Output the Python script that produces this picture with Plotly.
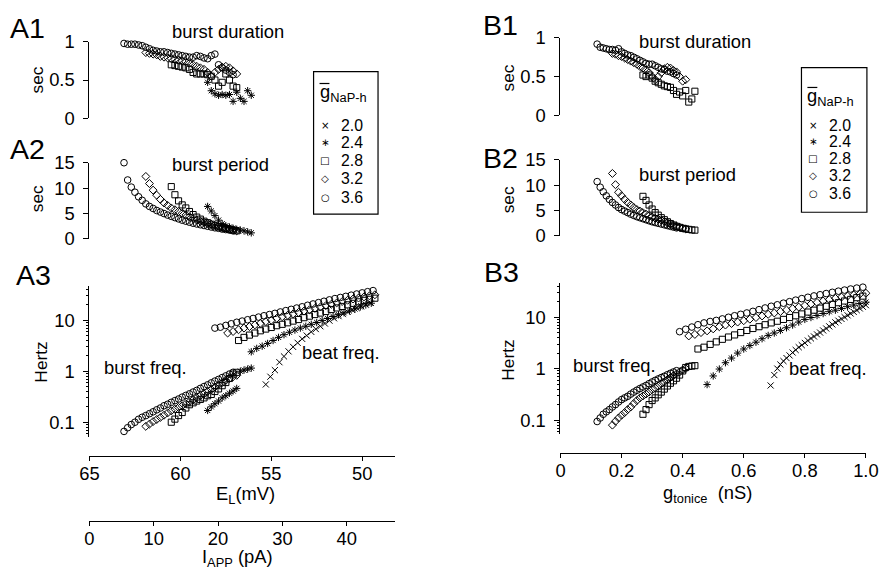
import plotly.graph_objects as go

# ---------------- Panel A : E_L sweep (burst regime) ----------------
A_el_c = [63.1, 62.9, 62.7, 62.5, 62.3, 62.1, 61.9, 61.7, 61.5, 61.3, 61.1, 60.9, 60.7, 60.5, 60.3, 60.1,
          59.9, 59.7, 59.5, 59.3, 59.1, 58.9, 58.7, 58.5, 58.3, 58.1, 57.9, 57.7, 57.5, 57.3, 57.1]
A_dur_c = [0.98, 0.97, 0.97, 0.97, 0.96, 0.95, 0.93, 0.91, 0.89, 0.88, 0.87, 0.87, 0.86, 0.85, 0.84, 0.83,
           0.82, 0.81, 0.80, 0.80, 0.82, 0.81, 0.79, 0.78, 0.82, 0.84, 0.70, 0.66, 0.63, 0.60, 0.57]
A_per_c = [15.0, 11.6, 10.2, 9.2, 8.3, 7.6, 6.9, 6.4, 6.0, 5.6, 5.3, 5.0, 4.7, 4.45, 4.2, 3.95,
           3.7, 3.5, 3.3, 3.1, 2.95, 2.8, 2.65, 2.5, 2.35, 2.2, 2.1, 1.95, 1.85, 1.75, 1.6]
A_frq_c = [0.066, 0.078, 0.09, 0.10, 0.114, 0.125, 0.135, 0.147, 0.16, 0.175, 0.19, 0.21, 0.225, 0.245, 0.265, 0.285,
           0.31, 0.335, 0.36, 0.39, 0.42, 0.46, 0.50, 0.54, 0.59, 0.64, 0.69, 0.75, 0.81, 0.88, 0.95]
A_el_d = [61.9, 61.7, 61.5, 61.3, 61.1, 60.9, 60.7, 60.5, 60.3, 60.1, 59.9, 59.7, 59.5, 59.3, 59.1, 58.9,
          58.7, 58.5, 58.3, 58.1, 57.9, 57.7, 57.5, 57.3, 57.1, 56.9]
A_dur_d = [0.86, 0.85, 0.84, 0.83, 0.81, 0.80, 0.79, 0.78, 0.77, 0.76, 0.75, 0.74, 0.72, 0.70, 0.68, 0.66,
           0.64, 0.60, 0.55, 0.60, 0.64, 0.67, 0.68, 0.66, 0.62, 0.58]
A_per_d = [12.3, 10.9, 9.6, 8.6, 7.8, 7.1, 6.6, 6.1, 5.75, 5.4, 5.05, 4.7, 4.35, 4.0, 3.7, 3.45,
           3.25, 3.05, 2.9, 2.7, 2.5, 2.3, 2.15, 2.0, 1.8, 1.6]
A_frq_d = [0.083, 0.092, 0.103, 0.113, 0.124, 0.137, 0.152, 0.167, 0.18, 0.195, 0.21, 0.23, 0.25, 0.275, 0.30, 0.33,
           0.36, 0.40, 0.44, 0.49, 0.54, 0.60, 0.66, 0.72, 0.78, 0.83]
A_el_s = [60.5, 60.3, 60.1, 59.9, 59.7, 59.5, 59.3, 59.1, 58.9, 58.7, 58.5, 58.3, 58.1, 57.9, 57.7, 57.5, 57.3, 57.1, 56.9]
A_dur_s = [0.70, 0.69, 0.68, 0.67, 0.66, 0.64, 0.60, 0.58, 0.58, 0.58, 0.57, 0.55, 0.50, 0.42, 0.47, 0.58, 0.50, 0.42, 0.40]
A_per_s = [10.3, 8.7, 7.5, 6.7, 6.1, 5.4, 4.8, 4.3, 3.9, 3.5, 3.2, 2.9, 2.6, 2.4, 2.2, 2.05, 1.9, 1.75, 1.6]
A_frq_s = [0.10, 0.115, 0.135, 0.155, 0.19, 0.22, 0.24, 0.26, 0.28, 0.30, 0.33, 0.35, 0.40, 0.45, 0.52, 0.60, 0.72, 0.88, 0.95]
A_el_a = [58.5, 58.3, 58.1, 57.9, 57.7, 57.5, 57.3, 57.1, 56.9, 56.7, 56.5, 56.3, 56.1]
A_dur_a = [0.47, 0.36, 0.32, 0.30, 0.31, 0.30, 0.31, 0.22, 0.34, 0.26, 0.22, 0.36, 0.30]
A_per_a = [6.4, 5.5, 4.6, 3.7, 3.0, 2.6, 2.35, 2.1, 1.9, 1.75, 1.6, 1.4, 1.2]
A_frq_a = [0.17, 0.20, 0.23, 0.26, 0.30, 0.33, 0.37, 0.41, 0.46, 1.0, 1.05, 1.1, 1.15]

# ---------------- Panel A : beat frequency ----------------
A_bel_c = [58.1, 57.8, 57.5, 57.2, 56.9, 56.6, 56.3, 56.0, 55.7, 55.4, 55.1, 54.8, 54.5, 54.2, 53.9,
           53.6, 53.3, 53.0, 52.7, 52.4, 52.1, 51.8, 51.5, 51.2, 50.9, 50.6, 50.3, 50.0, 49.7, 49.4]
A_beat_c = [7.0, 7.3, 7.9, 8.5, 9.1, 9.6, 10.2, 10.8, 11.5, 12.2, 12.9, 13.6, 14.5, 15.4, 16.3,
            17.3, 18.3, 19.6, 20.8, 22.1, 23.5, 25.0, 26.5, 27.9, 29.3, 30.9, 32.6, 34.3, 36.2, 38.0]
A_bel_d = [57.4, 57.1, 56.8, 56.5, 56.2, 55.9, 55.6, 55.3, 55.0, 54.7, 54.4, 54.1, 53.8, 53.5,
           53.2, 52.9, 52.6, 52.3, 52.0, 51.7, 51.4, 51.1, 50.8, 50.5, 50.2, 49.9, 49.6, 49.3]
A_beat_d = [5.6, 6.0, 6.5, 7.0, 7.5, 8.1, 8.7, 9.4, 10.0, 10.9, 11.7, 12.5, 13.3, 14.2,
            15.1, 16.0, 17.0, 18.1, 19.3, 20.5, 21.8, 23.2, 24.6, 26.0, 27.2, 28.6, 30.0, 31.5]
A_bel_s = [56.8, 56.5, 56.2, 55.9, 55.6, 55.3, 55.0, 54.7, 54.4, 54.1, 53.8, 53.5, 53.2,
           52.9, 52.6, 52.3, 52.0, 51.7, 51.4, 51.1, 50.8, 50.5, 50.2, 49.9, 49.6, 49.3]
A_beat_s = [4.0, 4.6, 5.1, 5.6, 6.2, 6.7, 7.2, 7.8, 8.3, 8.9, 9.6, 10.3, 11.2,
            12.0, 12.9, 13.8, 14.8, 16.2, 17.4, 18.6, 20.0, 21.4, 22.9, 24.5, 25.7, 27.0]
A_bel_a = [56.1, 55.8, 55.5, 55.2, 54.9, 54.6, 54.3, 54.0, 53.7, 53.4, 53.1, 52.8, 52.5, 52.2,
           51.9, 51.6, 51.3, 51.0, 50.7, 50.4, 50.1, 49.8, 49.5]
A_beat_a = [2.4, 2.8, 3.1, 3.5, 4.0, 4.6, 5.2, 5.8, 6.4, 7.0, 7.6, 8.3, 9.0, 9.9,
            10.8, 11.8, 12.8, 14.0, 15.2, 16.6, 18.2, 19.9, 21.5]
A_bel_x = [55.3, 55.05, 54.8, 54.55, 54.3, 54.05, 53.8, 53.55, 53.3, 53.05, 52.8, 52.55,
           52.3, 52.05, 51.8, 51.55, 51.3, 51.05, 50.8, 50.55, 50.3, 50.05, 49.8, 49.55]
A_beat_x = [0.55, 0.78, 1.05, 1.5, 1.95, 2.45, 3.0, 3.6, 4.3, 5.0, 5.9, 6.7,
            7.6, 8.6, 9.8, 10.9, 12.0, 13.3, 14.6, 15.9, 17.3, 18.8, 20.3, 21.8]

# ---------------- Panel B : g_tonic sweep (burst regime) ----------------
B_g_c = [0.12, 0.13, 0.14, 0.15, 0.16, 0.17, 0.18, 0.19, 0.20, 0.21, 0.22, 0.23, 0.24, 0.25,
         0.26, 0.27, 0.28, 0.29, 0.30, 0.31, 0.32, 0.33, 0.34, 0.35, 0.36, 0.37, 0.38]
B_dur_c = [0.92, 0.88, 0.87, 0.86, 0.85, 0.85, 0.84, 0.86, 0.82, 0.80, 0.78, 0.77, 0.75, 0.73,
           0.71, 0.69, 0.67, 0.66, 0.66, 0.64, 0.62, 0.60, 0.59, 0.57, 0.56, 0.54, 0.52]
B_per_c = [10.7, 9.6, 8.7, 7.9, 7.2, 6.6, 6.1, 5.6, 5.2, 4.9, 4.6, 4.3, 4.05, 3.8,
           3.6, 3.4, 3.2, 3.0, 2.8, 2.65, 2.5, 2.35, 2.2, 2.05, 1.9, 1.75, 1.6]
B_frq_c = [0.094, 0.11, 0.13, 0.145, 0.16, 0.18, 0.20, 0.225, 0.25, 0.27, 0.29, 0.32, 0.35, 0.38,
           0.41, 0.44, 0.47, 0.51, 0.55, 0.59, 0.63, 0.67, 0.71, 0.76, 0.81, 0.86, 0.91]
B_g_d = [0.17, 0.18, 0.19, 0.20, 0.21, 0.22, 0.23, 0.24, 0.25, 0.26, 0.27, 0.28, 0.29,
         0.30, 0.31, 0.32, 0.33, 0.34, 0.35, 0.36, 0.37, 0.38, 0.39, 0.40, 0.41]
B_dur_d = [0.80, 0.79, 0.77, 0.76, 0.74, 0.72, 0.70, 0.68, 0.66, 0.63, 0.61, 0.58, 0.55,
           0.50, 0.46, 0.50, 0.55, 0.60, 0.62, 0.61, 0.58, 0.56, 0.50, 0.44, 0.46]
B_per_d = [12.3, 10.1, 8.6, 7.9, 7.2, 6.6, 6.1, 5.6, 5.2, 4.9, 4.6, 4.3, 4.0,
           3.75, 3.5, 3.3, 3.1, 2.85, 2.6, 2.4, 2.15, 1.95, 1.75, 1.55, 1.4]
B_frq_d = [0.08, 0.095, 0.11, 0.125, 0.14, 0.16, 0.18, 0.21, 0.24, 0.27, 0.295, 0.32, 0.35,
           0.39, 0.42, 0.46, 0.51, 0.55, 0.61, 0.67, 0.73, 0.79, 0.86, 0.94, 1.0]
B_g_s = [0.27, 0.28, 0.29, 0.30, 0.31, 0.32, 0.33, 0.34, 0.35, 0.36, 0.37, 0.38, 0.39, 0.40, 0.41, 0.42, 0.43, 0.44]
B_dur_s = [0.52, 0.50, 0.52, 0.48, 0.44, 0.42, 0.40, 0.38, 0.37, 0.36, 0.32, 0.27, 0.30, 0.25, 0.32, 0.17, 0.21, 0.31]
B_per_s = [7.8, 7.0, 6.1, 5.3, 4.6, 4.1, 3.6, 3.2, 2.8, 2.45, 2.15, 1.9, 1.7, 1.5, 1.4, 1.3, 1.2, 1.15]
B_frq_s = [0.13, 0.16, 0.20, 0.24, 0.27, 0.31, 0.35, 0.40, 0.46, 0.52, 0.58, 0.65, 0.75, 0.90, 1.05, 1.1, 1.12, 1.14]

# ---------------- Panel B : beat frequency ----------------
B_bg_c = [0.39, 0.41, 0.43, 0.45, 0.47, 0.49, 0.51, 0.53, 0.55, 0.57, 0.59, 0.61, 0.63, 0.65, 0.67, 0.69,
          0.71, 0.73, 0.75, 0.77, 0.79, 0.81, 0.83, 0.85, 0.87, 0.89, 0.91, 0.93, 0.95, 0.97, 0.99]
B_beat_c = [5.2, 5.8, 6.4, 7.1, 7.7, 8.2, 8.6, 9.2, 9.9, 10.6, 11.3, 12.0, 12.9, 13.9, 15.0, 16.2,
            17.3, 18.6, 19.9, 21.3, 22.8, 24.2, 25.7, 27.1, 28.6, 30.2, 31.8, 33.4, 35.0, 36.5, 38.0]
B_bg_d = [0.42, 0.44, 0.46, 0.48, 0.50, 0.52, 0.54, 0.56, 0.58, 0.60, 0.62, 0.64, 0.66, 0.68, 0.70,
          0.72, 0.74, 0.76, 0.78, 0.80, 0.82, 0.84, 0.86, 0.88, 0.90, 0.92, 0.94, 0.96, 0.98, 1.00]
B_beat_d = [4.3, 4.6, 5.0, 5.4, 5.9, 6.5, 7.0, 7.5, 8.0, 8.5, 9.1, 9.8, 10.5, 11.3, 12.0,
            12.8, 13.7, 14.6, 15.6, 16.7, 17.9, 19.2, 20.5, 21.8, 23.1, 24.4, 25.6, 26.8, 27.9, 29.0]
B_bg_s = [0.45, 0.47, 0.49, 0.51, 0.53, 0.55, 0.57, 0.59, 0.61, 0.63, 0.65, 0.67, 0.69, 0.71,
          0.73, 0.75, 0.77, 0.79, 0.81, 0.83, 0.85, 0.87, 0.89, 0.91, 0.93, 0.95, 0.97, 0.99]
B_beat_s = [2.4, 2.6, 2.95, 3.3, 3.7, 4.1, 4.5, 5.0, 5.5, 6.0, 6.5, 7.1, 7.7, 8.3,
            9.0, 9.8, 10.6, 11.5, 12.5, 13.6, 14.9, 16.2, 17.6, 19.0, 20.5, 22.0, 23.8, 25.5]
B_bg_a = [0.48, 0.50, 0.52, 0.54, 0.56, 0.58, 0.60, 0.62, 0.64, 0.66, 0.68, 0.70, 0.72, 0.74,
          0.76, 0.78, 0.80, 0.82, 0.84, 0.86, 0.88, 0.90, 0.92, 0.94, 0.96, 0.98, 1.00]
B_beat_a = [0.49, 0.72, 0.98, 1.3, 1.6, 2.0, 2.4, 2.8, 3.25, 3.8, 4.4, 4.9, 5.5, 6.2,
            7.0, 8.0, 9.0, 9.8, 10.7, 11.7, 12.7, 13.6, 14.7, 15.9, 17.1, 18.3, 19.5]
B_bg_x = [0.688, 0.70, 0.71, 0.72, 0.73, 0.74, 0.75, 0.76, 0.77, 0.78, 0.79, 0.80, 0.81, 0.82, 0.83, 0.84,
          0.85, 0.86, 0.87, 0.88, 0.89, 0.90, 0.91, 0.92, 0.93, 0.94, 0.95, 0.96, 0.97, 0.98, 0.99, 1.00]
B_beat_x = [0.47, 0.75, 1.0, 1.2, 1.4, 1.6, 1.8, 2.05, 2.3, 2.6, 2.85, 3.15, 3.5, 3.85, 4.2, 4.6,
            5.0, 5.5, 6.0, 6.6, 7.2, 7.9, 8.5, 9.2, 10.0, 10.8, 11.7, 12.6, 13.6, 14.7, 15.8, 17.0]

# legend / tick labels
LEG_LABELS = ["2.0", "2.4", "2.8", "3.2", "3.6"]
LEG_GLYPHS = ["\u00d7", "\u2217", "\u25a1", "\u25c7", "\u25cb"]
A_EL_TICKS = [65, 60, 55, 50]
A_IAPP_TICKS = [0, 10, 20, 30, 40]
B_G_TICKS = [0, 0.2, 0.4, 0.6, 0.8, 1.0]
B_G_TEXT = ["0", "0.2", "0.4", "0.6", "0.8", "1.0"]

# ---------------- figure ----------------
W, H = 886, 571
OFF = 8                       # default body margin of the page
SX, SY = (W + 2 * OFF) / W, (H + 2 * OFF) / H   # the captured page is slightly larger than the figure
FONT = "Liberation Sans, Arial, Helvetica, sans-serif"
FS = 1.02


def px(x):
    return (x * SX - OFF) / W


def py(y):
    return 1 - (y * SY - OFF) / H


def ydom(top, bot):
    return [py(bot), py(top)]


SYM = {"2.0": ("x-thin-open", 6), "2.4": ("asterisk-open", 6), "2.8": ("square-open", 6),
       "3.2": ("diamond-open", 6), "3.6": ("circle-open", 6.5)}

fig = go.Figure()


def add(xs, ys, key, xa, ya):
    sym, size = SYM[key]
    fig.add_trace(go.Scatter(
        x=xs, y=ys, mode="markers", xaxis=xa, yaxis=ya,
        marker=dict(symbol=sym, size=size * FS, color="black", line=dict(color="black", width=1)),
        showlegend=False, cliponaxis=False, hoverinfo="skip"))


A_burst = [(A_el_c, A_dur_c, A_per_c, A_frq_c, "3.6"), (A_el_d, A_dur_d, A_per_d, A_frq_d, "3.2"),
           (A_el_s, A_dur_s, A_per_s, A_frq_s, "2.8"), (A_el_a, A_dur_a, A_per_a, A_frq_a, "2.4")]
for xs, d, p, f, k in A_burst:
    add(xs, d, k, "x", "y")
    add(xs, p, k, "x2", "y2")
    add(xs, f, k, "x3", "y3")
for xs, ys, k in [(A_bel_c, A_beat_c, "3.6"), (A_bel_d, A_beat_d, "3.2"), (A_bel_s, A_beat_s, "2.8"),
                  (A_bel_a, A_beat_a, "2.4"), (A_bel_x, A_beat_x, "2.0")]:
    add(xs, ys, k, "x3", "y3")

# empty trace so the I_APP axis subplot exists
fig.add_trace(go.Scatter(x=[], y=[], xaxis="x4", yaxis="y4", showlegend=False, hoverinfo="skip"))

B_burst = [(B_g_c, B_dur_c, B_per_c, B_frq_c, "3.6"), (B_g_d, B_dur_d, B_per_d, B_frq_d, "3.2"),
           (B_g_s, B_dur_s, B_per_s, B_frq_s, "2.8")]
for xs, d, p, f, k in B_burst:
    add(xs, d, k, "x5", "y5")
    add(xs, p, k, "x6", "y6")
    add(xs, f, k, "x7", "y7")
for xs, ys, k in [(B_bg_c, B_beat_c, "3.6"), (B_bg_d, B_beat_d, "3.2"), (B_bg_s, B_beat_s, "2.8"),
                  (B_bg_a, B_beat_a, "2.4"), (B_bg_x, B_beat_x, "2.0")]:
    add(xs, ys, k, "x7", "y7")

AX = dict(showline=True, linecolor="black", linewidth=1.2, ticks="outside", ticklen=5, tickwidth=1.2,
          tickcolor="black", showgrid=False, zeroline=False,
          tickfont=dict(size=18 * FS, color="black", family=FONT))
XAX = dict(AX, ticklen=4, ticklabelstandoff=-3, ticklabeloverflow="allow")
HID = dict(visible=False, showgrid=False, zeroline=False)

A_dom = [px(88), px(396)]
B_dom = [px(563), px(871)]
A_rng = [65, 48.2]
B_rng = [0, 1.0]
minor_vals = [0.06, 0.07, 0.08, 0.09, 0.2, 0.3, 0.4, 0.5, 0.6, 0.7, 0.8, 0.9,
              2, 3, 4, 5, 6, 7, 8, 9, 20, 30, 40]
MINOR = dict(ticks="outside", ticklen=2.5, tickwidth=1, tickcolor="black", tickvals=minor_vals)

layout = dict(
    width=W, height=H, margin=dict(l=0, r=0, t=0, b=0),
    paper_bgcolor="white", plot_bgcolor="white", showlegend=False,
    font=dict(family=FONT, color="black"),
    # A1
    xaxis=dict(HID, domain=A_dom, range=A_rng, anchor="y"),
    yaxis=dict(AX, domain=ydom(39, 116), range=[0, 1], tickvals=[0, 0.5, 1], ticktext=["0", "0.5", "1"],
               anchor="x", ticklabelstandoff=5),
    # A2
    xaxis2=dict(HID, domain=A_dom, range=A_rng, anchor="y2"),
    yaxis2=dict(AX, domain=ydom(161, 238), range=[0, 15], tickvals=[0, 5, 10, 15], anchor="x2",
                ticklabelstandoff=5),
    # A3
    xaxis3=dict(XAX, domain=A_dom, range=A_rng, anchor="free", position=py(457), tickvals=A_EL_TICKS),
    yaxis3=dict(AX, domain=ydom(285, 438), type="log", range=[-1.29, 1.68], tickvals=[0.1, 1, 10],
                ticktext=["0.1", "1", "10"], anchor="x3", minor=MINOR, ticklabelstandoff=5),
    # I_APP axis
    xaxis4=dict(XAX, domain=A_dom, range=[0, 47.5], anchor="free", position=py(523), tickvals=A_IAPP_TICKS),
    yaxis4=dict(HID, domain=ydom(500, 520), range=[0, 1], anchor="x4"),
    # B1
    xaxis5=dict(HID, domain=B_dom, range=B_rng, anchor="y5"),
    yaxis5=dict(AX, domain=ydom(35, 113), range=[0, 1], tickvals=[0, 0.5, 1], ticktext=["0", "0.5", "1"],
                anchor="x5", ticklabelstandoff=5),
    # B2
    xaxis6=dict(HID, domain=B_dom, range=B_rng, anchor="y6"),
    yaxis6=dict(AX, domain=ydom(158, 235), range=[0, 15], tickvals=[0, 5, 10, 15], anchor="x6",
                ticklabelstandoff=5),
    # B3
    xaxis7=dict(XAX, domain=B_dom, range=B_rng, anchor="free", position=py(454), tickvals=B_G_TICKS,
                ticktext=B_G_TEXT),
    yaxis7=dict(AX, domain=ydom(282, 435), type="log", range=[-1.27, 1.67], tickvals=[0.1, 1, 10],
                ticktext=["0.1", "1", "10"], anchor="x7", minor=MINOR, ticklabelstandoff=5),
)
fig.update_layout(**layout)

anns = []


def ann(text, x, y, size=18, angle=0, xanchor="center", yanchor="middle", family=FONT, pad=1):
    anns.append(dict(text=text, x=px(x), y=py(y), xref="paper", yref="paper", showarrow=False,
                     textangle=angle, xanchor=xanchor, yanchor=yanchor, borderpad=pad,
                     font=dict(size=size * FS, family=family, color="black")))


# panel labels
for t, x, y in [("A1", 26, 25), ("A2", 26, 147), ("A3", 32, 274), ("B1", 503, 22), ("B2", 503, 156), ("B3", 504, 271)]:
    ann(t, x, y, size=28)
# inner titles
ann("burst duration", 228, 28)
ann("burst period", 220, 163)
ann("burst duration", 699, 39)
ann("burst period", 691, 173)
ann("burst freq.", 144, 368)
ann("beat freq.", 342, 353)
ann("burst freq.", 617, 366)
ann("beat freq.", 833, 369)
# axis titles
ann("sec", 35, 77, size=17, angle=-90)
ann("sec", 35, 197, size=17, angle=-90)
ann("Hertz", 39, 362, size=17, angle=-90)
ann("sec", 510, 75, size=17, angle=-90)
ann("sec", 510, 198, size=17, angle=-90)
ann("Hertz", 510, 360, size=17, angle=-90)
ann("E<sub>L</sub>(mV)", 245, 483, size=18, yanchor="top", pad=0)
ann("I<sub>APP</sub> (pA)", 237, 546, size=18, yanchor="top")
ann("g<sub>tonice</sub>  (nS)", 711, 482, size=18, yanchor="top", pad=0)

shapes = []
# legends drawn as boxes with text
for L, T, R, B, bar, ys in [(314, 69, 379, 213, 81, [123, 141, 159, 177, 196]),
                            (806, 65, 872, 211, 85, [123, 140, 157, 174, 192])]:
    shapes.append(dict(type="rect", xref="paper", yref="paper", x0=px(L), x1=px(R), y0=py(B), y1=py(T),
                       line=dict(color="black", width=1.2), fillcolor="rgba(0,0,0,0)"))
    shapes.append(dict(type="line", xref="paper", yref="paper", x0=px(L + 6), x1=px(L + 16),
                       y0=py(bar), y1=py(bar), line=dict(color="black", width=1.2)))
    ann("g<sub>NaP-h</sub>", L + 4, bar - 5, size=18, xanchor="left", yanchor="top")
    for g, lab, yy in zip(LEG_GLYPHS, LEG_LABELS, ys):
        ann(g, L + 12, yy, size=10, family="DejaVu Sans", pad=0)
        ann(lab, L + 27, yy, size=15.5, xanchor="left", pad=0)

fig.update_layout(annotations=anns, shapes=shapes)
fig.write_html("out.html")
